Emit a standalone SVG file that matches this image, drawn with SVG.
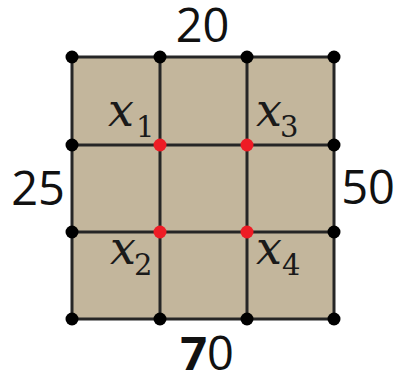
<svg xmlns="http://www.w3.org/2000/svg" width="398" height="374" viewBox="0 0 398 374">
<style>
.grid{stroke:#262626;stroke-width:3;fill:none}
.bd{fill:#000}
.rd{fill:#ee1c25}
.num{font-family:"Open Sans","Liberation Sans",sans-serif;font-size:47px;fill:#111;text-anchor:middle}
.var{font-family:"DejaVu Serif","Liberation Serif",serif;font-style:italic;font-size:46px;fill:#1a1a1a}
.sub{font-family:"DejaVu Serif","Liberation Serif",serif;font-style:normal;font-size:29px;fill:#1a1a1a}
</style>
<rect x="0" y="0" width="398" height="374" fill="#fff"/>
<g id="board">
<rect x="72" y="57" width="262" height="262" fill="#c3b69c"/>
</g>
<g id="connectors" class="grid">
<line x1="72" y1="57" x2="334" y2="57"/>
<line x1="72" y1="145" x2="334" y2="145"/>
<line x1="72" y1="232" x2="334" y2="232"/>
<line x1="72" y1="319" x2="334" y2="319"/>
<line x1="72" y1="57" x2="72" y2="319"/>
<line x1="160" y1="57" x2="160" y2="319"/>
<line x1="247" y1="57" x2="247" y2="319"/>
<line x1="334" y1="57" x2="334" y2="319"/>
</g>
<g id="boundary-nodes" class="bd">
<circle cx="72" cy="57" r="6.5"/>
<circle cx="160" cy="57" r="6.5"/>
<circle cx="247" cy="57" r="6.5"/>
<circle cx="334" cy="57" r="6.5"/>
<circle cx="72" cy="145" r="6.5"/>
<circle cx="334" cy="145" r="6.5"/>
<circle cx="72" cy="232" r="6.5"/>
<circle cx="334" cy="232" r="6.5"/>
<circle cx="72" cy="319" r="6.5"/>
<circle cx="160" cy="319" r="6.5"/>
<circle cx="247" cy="319" r="6.5"/>
<circle cx="334" cy="319" r="6.5"/>
</g>
<g id="node-x1"><circle class="rd" cx="160" cy="145" r="6.5"/><text class="var" x="108" y="126">x</text><text class="sub" x="136" y="137">1</text></g>
<g id="node-x3"><circle class="rd" cx="247" cy="145" r="6.5"/><text class="var" x="256" y="126">x</text><text class="sub" x="280" y="137">3</text></g>
<g id="node-x2"><circle class="rd" cx="160" cy="232" r="6.5"/><text class="var" x="110" y="264">x</text><text class="sub" x="134" y="275">2</text></g>
<g id="node-x4"><circle class="rd" cx="247" cy="232" r="6.5"/><text class="var" x="256" y="264">x</text><text class="sub" x="282" y="275">4</text></g>
<g id="labels">
<text class="num" x="202.5" y="42">20</text>
<text class="num" x="38" y="205">25</text>
<text class="num" x="368" y="204">50</text>
<text class="num" x="207" y="370"><tspan font-weight="bold">7</tspan>0</text>
</g>
</svg>
